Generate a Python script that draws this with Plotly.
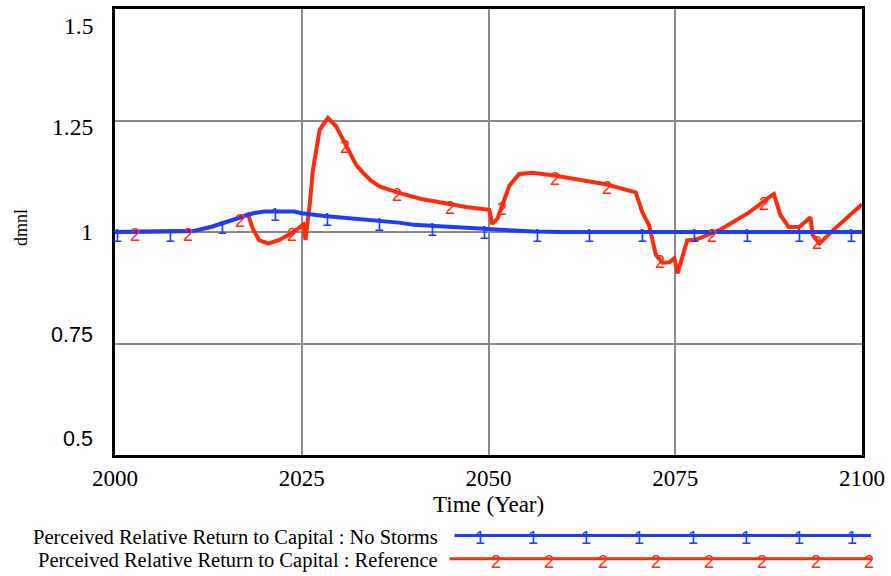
import numpy as np
import plotly.graph_objects as go

# ---- data -------------------------------------------------------------
# No Storms run (blue, series "1")
years_no_storms = [2000, 2009, 2010.5, 2013, 2015, 2017, 2018.5, 2020, 2024, 2025,
                   2028, 2031, 2035, 2038, 2040, 2045, 2049, 2052, 2056, 2060, 2100]
values_no_storms = [1.0, 1.0, 1.002, 1.012, 1.022, 1.034, 1.042, 1.046, 1.046, 1.042,
                    1.036, 1.032, 1.025, 1.021, 1.016, 1.011, 1.007, 1.004, 1.001, 1.0, 1.0]

# Reference run (red, series "2")
years_reference = [2000, 2009, 2010.5, 2013, 2015, 2017, 2017.8, 2018.5, 2019.3, 2020.5,
                   2022, 2023.5, 2025.2, 2025.5, 2026.1, 2026.5, 2027.4, 2028.5, 2029.6,
                   2030.7, 2031.5, 2032.3, 2033.2, 2034.2, 2035.4, 2038.1, 2041, 2044.3,
                   2047, 2050.1, 2050.5, 2051.2, 2051.9, 2052.8, 2054.1, 2055.9, 2059,
                   2062, 2065.7, 2069.7, 2070.6, 2071.5, 2072.4, 2073.3, 2074.2, 2074.9,
                   2075.3, 2076.6, 2077.8, 2080.9, 2084.9, 2088.0, 2088.2, 2089.1,
                   2090.2, 2091.6, 2093.1, 2093.4, 2094.3, 2096, 2100]
values_reference = [1.0, 1.0, 1.002, 1.012, 1.022, 1.034, 1.040, 1.005, 0.982, 0.974,
                    0.982, 0.996, 1.016, 0.982, 1.067, 1.14, 1.229, 1.256, 1.237,
                    1.2, 1.172, 1.15, 1.133, 1.116, 1.102, 1.087, 1.074, 1.063,
                    1.056, 1.050, 1.018, 1.03, 1.06, 1.104, 1.13, 1.133, 1.126,
                    1.118, 1.107, 1.089, 1.044, 1.015, 0.949, 0.931, 0.932, 0.941,
                    0.907, 0.981, 0.983, 1.004, 1.044, 1.083, 1.085, 1.037,
                    1.011, 1.011, 1.033, 0.993, 0.974, 1.002, 1.062]

series_names = ["Perceived Relative Return to Capital : No Storms",
                "Perceived Relative Return to Capital : Reference"]
y_tick_values = [1.5, 1.25, 1.0, 0.75, 0.5]
y_tick_labels = ["1.5", "1.25", "1", "0.75", "0.5"]
x_tick_values = [2000, 2025, 2050, 2075, 2100]

# ---- styling ------------------------------------------------------------
BLUE = "#1b3dff"
RED = "#ff2c0c"
GRID = "#8a8a8a"
SERIF = "Liberation Serif"
SANS = "Liberation Sans"

W, H = 891, 576
L, R, T, B = 115, 863, 6, 455          # plot-area edges in pixels


def px_x(p):
    return (p - L) / (R - L)


def px_y(p):
    return (B - p) / (B - T)


fig = go.Figure()

fig.add_trace(go.Scatter(x=years_reference, y=values_reference, mode="lines",
                         line=dict(color=RED, width=4), hoverinfo="skip",
                         showlegend=False))
fig.add_trace(go.Scatter(x=years_no_storms, y=values_no_storms, mode="lines",
                         line=dict(color=BLUE, width=4), hoverinfo="skip",
                         showlegend=False))

annotations = []

# series number glyphs along each line
step = 7.02
for k in range(15):
    t = 2000.3 + k * step
    annotations.append(dict(x=t, y=float(np.interp(t, years_no_storms, values_no_storms)),
                            xref="x", yref="y", text="1", showarrow=False, yshift=-4,
                            font=dict(family=SANS, size=18, color=BLUE)))
for k in range(14):
    t = 2002.7 + k * step
    annotations.append(dict(x=t, y=float(np.interp(t, years_reference, values_reference)),
                            xref="x", yref="y", text="2", showarrow=False, yshift=-3,
                            font=dict(family=SANS, size=18, color=RED)))

# y tick labels, spread Vensim-style between the range ends
label_shift = [-16.5, -6, 0, 8.5, 16]
label_font = [SERIF, SERIF, SERIF, SANS, SANS]
label_size = [23.5, 23.5, 23.5, 21.5, 21.5]
for v, txt, s, f, sz in zip(y_tick_values, y_tick_labels, label_shift, label_font, label_size):
    annotations.append(dict(x=0, y=v, xref="paper", yref="y", text=txt, showarrow=False,
                            xanchor="right", yanchor="middle", xshift=-20, yshift=s,
                            font=dict(family=f, size=sz, color="black")))

# y axis unit
annotations.append(dict(x=0, y=1.0, xref="paper", yref="y", text="dmnl", showarrow=False,
                        textangle=-90, xanchor="center", yanchor="middle",
                        xshift=-(L - 21), yshift=4,
                        font=dict(family=SERIF, size=18, color="black")))

# x axis title
annotations.append(dict(x=0.5, y=px_y(505), xref="paper", yref="paper", text="Time (Year)",
                        showarrow=False, xanchor="center", yanchor="middle",
                        font=dict(family=SERIF, size=23, color="black")))

# legend block
shapes = []
legend_rows = [(series_names[0], BLUE, "1", 538, 536, 455, 480.0),
               (series_names[1], RED, "2", 561.5, 559.5, 450, 496.7)]
for name, col, glyph, ty, ly, lx0, gx0 in legend_rows:
    annotations.append(dict(x=px_x(440), y=px_y(ty), xref="paper", yref="paper", text=name,
                            showarrow=False, xanchor="right", yanchor="middle",
                            font=dict(family=SERIF, size=20.5, color="black")))
    shapes.append(dict(type="line", xref="paper", yref="paper",
                       x0=px_x(lx0), x1=px_x(872), y0=px_y(ly), y1=px_y(ly),
                       line=dict(color=col, width=3)))
    for k in range(8):
        annotations.append(dict(x=px_x(gx0 + k * 53.33), y=px_y(ly + 3), xref="paper",
                                yref="paper", text=glyph, showarrow=False,
                                xanchor="center", yanchor="middle",
                                font=dict(family=SANS, size=18, color=col)))

fig.update_layout(
    width=W, height=H,
    margin=dict(l=L, r=W - R, t=T, b=H - B, pad=0),
    paper_bgcolor="white", plot_bgcolor="white",
    annotations=annotations, shapes=shapes,
    showlegend=False,
    xaxis=dict(range=[2000, 2100], tickvals=x_tick_values, ticks="", showgrid=True,
               gridcolor=GRID, gridwidth=1.5, zeroline=False,
               showline=True, linecolor="black", linewidth=3, mirror=True,
               tickfont=dict(family=SERIF, size=23, color="black")),
    yaxis=dict(range=[0.5, 1.5], tickvals=y_tick_values, showticklabels=False, ticks="",
               showgrid=True, gridcolor=GRID, gridwidth=1.5, zeroline=False,
               showline=True, linecolor="black", linewidth=3, mirror=True),
)

fig.write_html("out.html")
